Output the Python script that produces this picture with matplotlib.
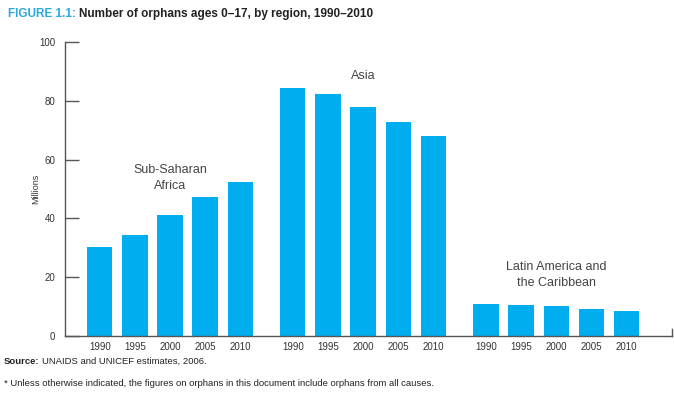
import numpy as np
import matplotlib
matplotlib.use("Agg")
import matplotlib.pyplot as plt

plt.rcParams['font.family'] = ['Liberation Sans', 'DejaVu Sans']

# data (millions of orphans)
years = ['1990', '1995', '2000', '2005', '2010']
regions = ['Sub-Saharan\nAfrica', 'Asia', 'Latin America and\nthe Caribbean']
ssa = [30.3, 34.4, 41.2, 47.3, 52.4]
asia = [84.4, 82.3, 77.9, 72.8, 68.0]
lac = [10.9, 10.5, 10.2, 9.2, 8.5]
y_ticks = [0, 20, 40, 60, 80, 100]

bar_color = '#00AEEF'
blue_title = '#2AA8E0'
axis_color = '#555555'
text_color = '#444444'

fig = plt.figure(figsize=(6.74, 3.95), dpi=100)
ax = fig.add_axes([65/674, 1-336/395, (672-65)/674, (336-42)/395])

group_gap = 5.5
all_vals = [ssa, asia, lac]
label_y = [49, 86.4, 16]
xticks, xlabels = [], []
for g, vals in enumerate(all_vals):
    x = np.arange(len(vals)) + g*group_gap
    ax.bar(x, vals, width=0.72, color=bar_color, zorder=2)
    xticks += list(x)
    xlabels += years
    ax.text(x.mean(), label_y[g], regions[g], ha='center', va='bottom',
            fontsize=9, color=text_color, linespacing=1.45)

ax.set_xlim(-0.99, 15.3 + 1.0)
ax.set_ylim(0, 100)
ax.set_xticks(xticks)
ax.set_xticklabels(xlabels, fontsize=7, color='#333333')
ax.set_yticks(y_ticks)
ax.set_yticklabels([str(v) for v in y_ticks], fontsize=7, color='#333333')
ax.tick_params(axis='x', length=0, pad=4)
ax.tick_params(axis='y', direction='in', length=10, width=1, color=axis_color, pad=7)
ax.set_ylabel('Millions', fontsize=6.5, color='#333333')
ax.yaxis.set_label_coords(-0.04, 0.5)

ax.spines['top'].set_visible(False)
ax.spines['right'].set_bounds(0, 2.5)
for s in ['left', 'bottom', 'right']:
    ax.spines[s].set_color(axis_color)
    ax.spines[s].set_linewidth(1)

# title in two colours
r = fig.canvas.get_renderer()
t1 = fig.text(8/674, 1-14/395, 'FIGURE 1.1:', fontsize=8.5, fontweight='bold',
              color=blue_title, va='center', ha='left')
bb = t1.get_window_extent(renderer=r)
fig.text(bb.x1/674 + 3/674, 1-14/395, 'Number of orphans ages 0\u201317, by region, 1990\u20132010',
         fontsize=8.5, fontweight='bold', color='#222222', va='center', ha='left')

s1 = fig.text(4/674, 1-361/395, 'Source:', fontsize=6.8, fontweight='bold',
              color='#222222', va='center', ha='left')
bb = s1.get_window_extent(renderer=r)
fig.text(bb.x1/674 + 2/674, 1-361/395, 'UNAIDS and UNICEF estimates, 2006.',
         fontsize=6.8, color='#222222', va='center', ha='left')
fig.text(4/674, 1-383/395,
         '* Unless otherwise indicated, the figures on orphans in this document include orphans from all causes.',
         fontsize=6.8, color='#222222', va='center', ha='left')

fig.savefig('out.png', dpi=100)
